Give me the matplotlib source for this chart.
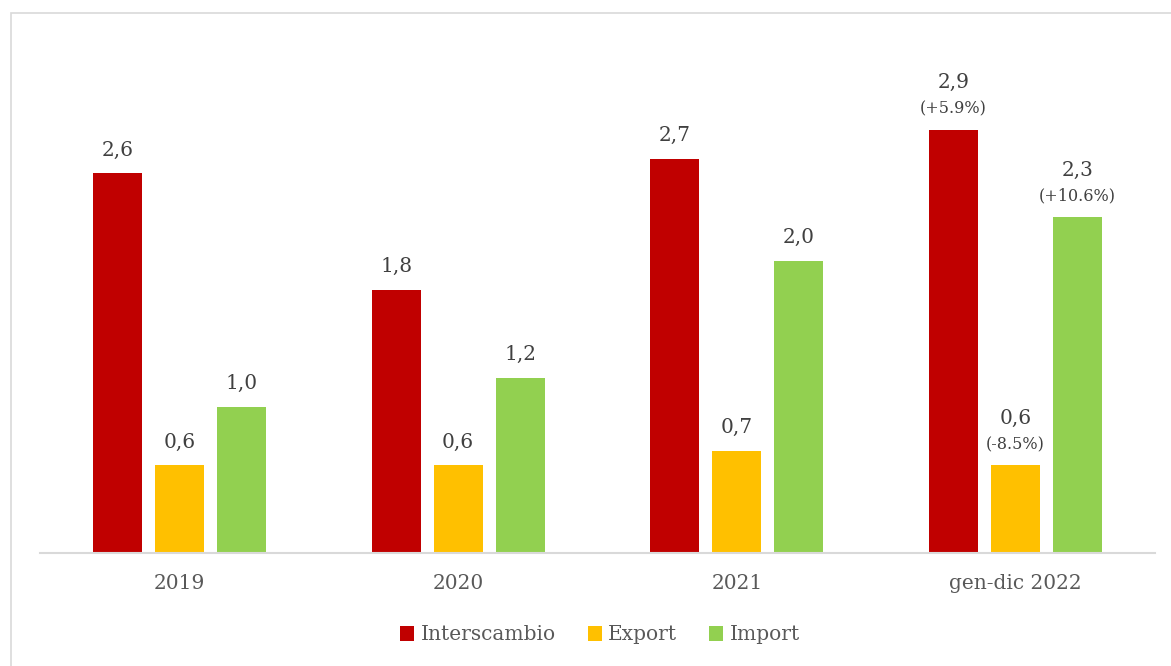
import matplotlib
matplotlib.use("Agg")
import matplotlib.pyplot as plt
from matplotlib.patches import Rectangle
import numpy as np

categories = ["2019", "2020", "2021", "gen-dic 2022"]
series_names = ["Interscambio", "Export", "Import"]
interscambio = [2.6, 1.8, 2.7, 2.9]
export = [0.6, 0.6, 0.7, 0.6]
import_ = [1.0, 1.2, 2.0, 2.3]
value_labels = [
    ["2,6", "1,8", "2,7", "2,9"],
    ["0,6", "0,6", "0,7", "0,6"],
    ["1,0", "1,2", "2,0", "2,3"],
]
pct_labels = [
    [None, None, None, "(+5.9%)"],
    [None, None, None, "(-8.5%)"],
    [None, None, None, "(+10.6%)"],
]
colors = ["#C00000", "#FFC000", "#92D050"]

plt.rcParams['font.family'] = ['DejaVu Serif']

fig = plt.figure(figsize=(11.71, 6.66), dpi=100)
W, H = 1171, 666
ax = fig.add_axes([40 / W, 1 - 553 / H, (1155 - 40) / W, (553 - 42) / H])

x = np.arange(len(categories))
width = 0.176
offset = 0.2226
data = [interscambio, export, import_]
for i, (vals, col, name) in enumerate(zip(data, colors, series_names)):
    pos = x + (i - 1) * offset
    ax.bar(pos, vals, width=width, color=col, label=name, zorder=2)
    for j, (p, v) in enumerate(zip(pos, vals)):
        pct = pct_labels[i][j]
        if pct:
            ax.annotate(pct, (p, v), xytext=(0, 9), textcoords="offset points",
                        ha="center", va="bottom", fontsize=11.5, color="#404040")
            ax.annotate(value_labels[i][j], (p, v), xytext=(0, 27), textcoords="offset points",
                        ha="center", va="bottom", fontsize=14.5, color="#404040")
        else:
            ax.annotate(value_labels[i][j], (p, v), xytext=(0, 10), textcoords="offset points",
                        ha="center", va="bottom", fontsize=14.5, color="#404040")

ax.set_xlim(-0.5, len(categories) - 0.5)
ax.set_ylim(0, 3.5)
ax.set_yticks([])
ax.set_xticks(x)
ax.set_xticklabels(categories, fontsize=14.5, color="#595959")
ax.tick_params(axis="x", length=0, pad=15)
for s in ["top", "right", "left"]:
    ax.spines[s].set_visible(False)
ax.spines["bottom"].set_color("#D9D9D9")
ax.spines["bottom"].set_linewidth(1.5)

leg = fig.legend(loc="center", bbox_to_anchor=(600 / W, 1 - 635 / H), ncol=3, frameon=False,
                 fontsize=14.5, handlelength=0.7, handleheight=0.7, handletextpad=0.3,
                 columnspacing=1.6)
for t in leg.get_texts():
    t.set_color("#595959")

fig.patches.append(Rectangle((10.5 / W, -0.1), 1.2, 1 - 12.5 / H + 0.1, transform=fig.transFigure,
                             fill=False, edgecolor="#D9D9D9", linewidth=1.2))

fig.savefig("out.png", dpi=100)
